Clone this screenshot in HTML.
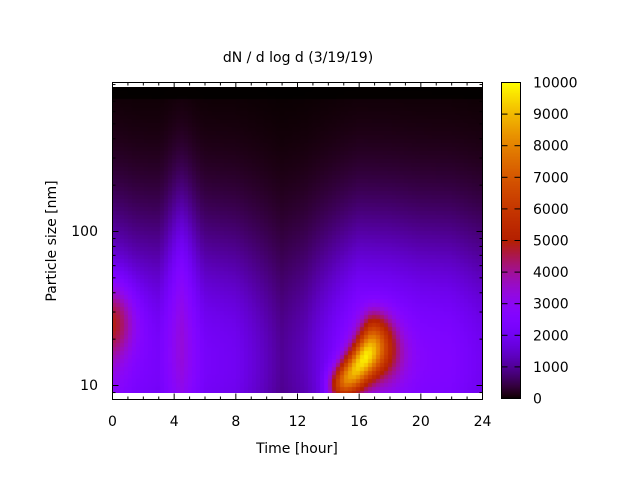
<!DOCTYPE html>
<html><head><meta charset="utf-8"><style>
html,body{margin:0;padding:0;background:#fff;}
#w{position:relative;width:640px;height:480px;overflow:hidden;font-family:"DejaVu Sans","Liberation Sans",sans-serif;}
canvas{position:absolute;}
svg{position:absolute;left:0;top:0;}
text{font-family:"DejaVu Sans","Liberation Sans",sans-serif;font-size:14px;fill:#000;}
</style></head><body><div id="w">
<canvas id="hm" width="370" height="306" style="left:112px;top:87px"></canvas>
<canvas id="cb" width="19" height="317" style="left:501px;top:82px"></canvas>
<svg id="s" width="640" height="480"></svg>
</div>
<script>
function pal(x){x=Math.max(0,Math.min(1,x));var r=Math.sqrt(x),g=x*x*x,b=Math.sin(2*Math.PI*x);if(b<0)b=0;return [r*255,g*255,b*255];}
function G(t,u,t0,u0,st,su,a){var dt=(t-t0)/st,du=(u-u0)/su;return a*Math.exp(-0.5*(dt*dt+du*du));}
function interp(t,pts){for(var i=0;i<pts.length-1;i++){if(t<=pts[i+1][0]){var f=(t-pts[i][0])/(pts[i+1][0]-pts[i][0]);return pts[i][1]+f*(pts[i+1][1]-pts[i][1]);}}return pts[pts.length-1][1];}
var A=[[0,0.3],[1.5,0.24],[3,0.22],[4.5,0.32],[6,0.22],[8,0.2],[9.5,0.15],[11,0.1],[12.5,0.13],[14,0.2],[16,0.3],[18,0.29],[20,0.26],[22,0.25],[24,0.2]];
var B=[[14.7,0.99,0.3],[15.3,1.06,0.3],[15.9,1.13,0.3],[16.5,1.21,0.3],[16.9,1.31,0.2],[17.0,1.42,0.1]];
function val(t,u){
 var f=Math.exp(-Math.pow((u-1.15)/0.85,2));
 var v=interp(t,A)*f;
 v+=G(t,u,0,1.42,1.1,0.17,0.22);
 v+=G(t,u,4.5,1.8,0.6,0.4,0.06);
 for(var k=0;k<B.length;k++){var st=(t<B[k][0])?0.5:0.8;v+=G(t,u,B[k][0],B[k][1],st,0.08,B[k][2]);}
 v+=G(t,u,17.4,1.2,1.1,0.14,0.2);
 if(u>2.86)v*=0.05;
 return v;}
var c=document.getElementById('hm').getContext('2d');var W=370,H=306;var im=c.createImageData(W,H);
var cs=4;
for(var y=0;y<H;y++){
 for(var x=0;x<W;x++){var t=(Math.floor(x/cs)*cs+cs/2)/370*24;var uu=1+(385-(87+Math.floor(y/cs)*cs+cs/2))/154;
 var p=pal(val(t,uu));var i=(y*W+x)*4;im.data[i]=p[0];im.data[i+1]=p[1];im.data[i+2]=p[2];im.data[i+3]=255;}}
c.putImageData(im,0,0);
var cb=document.getElementById('cb').getContext('2d');
for(var y=0;y<317;y++){var p=pal(1-y/316);cb.fillStyle='rgb('+p.map(Math.round).join(',')+')';cb.fillRect(0,y,19,1);}
var s='';
function L(a,b,c2,d){s+='<line x1="'+a+'" y1="'+b+'" x2="'+c2+'" y2="'+d+'" stroke="#000" stroke-width="1"/>';}
s+='<rect x="112.5" y="82.5" width="370" height="317" fill="none" stroke="#000"/>';
for(var h=0;h<=24;h++){var x=112.5+h*370/24;var l=(h%4==0)?6:3;L(x,399.5,x,399.5-l);L(x,82.5,x,82.5+l);
 if(h%4==0)s+='<text x="'+x+'" y="426" text-anchor="middle">'+h+'</text>';}
for(var dec=0;dec<3;dec++){for(var m=1;m<10;m++){var val2=Math.pow(10,dec)*m; if(dec==0&&m<9)continue; var lg=Math.log10(val2);
 var y=385.5-(lg-1)*154; if(y<82||y>399)continue; var l=(m==1)?6:3;L(112.5,y,112.5+l,y);L(482.5,y,482.5-l,y);}}
s+='<text x="98" y="390" text-anchor="end">10</text><text x="98" y="236" text-anchor="end">100</text>';
s+='<rect x="501.5" y="82.5" width="19" height="316" fill="none" stroke="#000"/>';
for(var k=0;k<=10;k++){var y=398.5-k*31.6;L(501.5,y,507.5,y);L(520.5,y,514.5,y);s+='<text x="533" y="'+(y+5)+'">'+(k*1000)+'</text>';}
s+='<text x="298" y="62" text-anchor="middle">dN / d log d (3/19/19)</text>';
s+='<text x="297" y="453" text-anchor="middle">Time [hour]</text>';
s+='<text transform="translate(56,241) rotate(-90)" text-anchor="middle">Particle size [nm]</text>';
document.getElementById('s').innerHTML=s;
</script></body></html>
